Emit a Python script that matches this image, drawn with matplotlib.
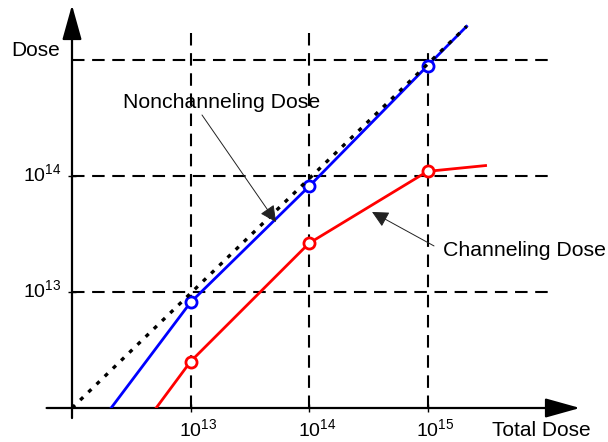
import matplotlib
matplotlib.use("Agg")
import matplotlib.pyplot as plt
from matplotlib.patches import ArrowStyle

plt.rcParams["font.family"] = ["Liberation Sans", "DejaVu Sans"]
plt.rcParams["mathtext.fontset"] = "custom"
plt.rcParams["mathtext.rm"] = "Liberation Sans"
plt.rcParams["lines.scale_dashes"] = False

# data (log-log)
tick_doses = [1e13, 1e14, 1e15]
tick_labels = [r"$\mathregular{10^{13}}$", r"$\mathregular{10^{14}}$", r"$\mathregular{10^{15}}$"]

ideal_x = [1e12, 10**15.33]
ideal_y = [1e12, 10**15.29]

nonchan_x = [10**12.33, 1e13, 1e14, 1e15, 10**15.33]
nonchan_y = [1e12, 10**12.91, 10**13.91, 10**14.95, 10**15.29]

chan_x = [10**12.71, 1e13, 1e14, 1e15, 10**15.49]
chan_y = [1e12, 10**12.40, 10**13.42, 10**14.04, 10**14.09]

# layout (pixels of the 608x442 picture)
W, H = 608, 442
X0, Y0 = 72, 408          # where 1e12/1e12 sits
PX_DEC_X, PX_DEC_Y = 118.5, 116.0

fig = plt.figure(figsize=(W / 100, H / 100), dpi=100)
ax = fig.add_axes([X0 / W, (H - Y0) / H, (580 - X0) / W, (Y0 - 5) / H])
ax.set_xscale("log")
ax.set_yscale("log")
ax.set_xlim(1e12, 10 ** (12 + (580 - X0) / PX_DEC_X))
ax.set_ylim(1e12, 10 ** (12 + (Y0 - 5) / PX_DEC_Y))
for s in ax.spines.values():
    s.set_visible(False)
ax.set_xticks([])
ax.set_yticks([])
ax.minorticks_off()
ax.patch.set_alpha(0)

grid_kw = dict(color="black", lw=1.5, dashes=(9, 5.5), zorder=1)
x_grid_end = 10 ** (12 + (550 - X0) / PX_DEC_X)
for d in tick_doses:
    ax.plot([1e12, x_grid_end], [d, d], **grid_kw)
v_tops = [10 ** 15.23, 10 ** 15.23, 10 ** 15.09]
for d, top in zip(tick_doses, v_tops):
    ax.plot([d, d], [1e12, top], **grid_kw)

# axes with arrows
axis_style = ArrowStyle("-|>", head_length=21.5, head_width=6.0)
ax.annotate("", xy=(1, 0), xytext=(-0.05, 0), xycoords="axes fraction",
            arrowprops=dict(arrowstyle=axis_style, mutation_scale=1, lw=1.6,
                            color="black", shrinkA=0, shrinkB=0), annotation_clip=False)
ax.annotate("", xy=(0, 1), xytext=(0, -0.025), xycoords="axes fraction",
            arrowprops=dict(arrowstyle=axis_style, mutation_scale=1, lw=1.6,
                            color="black", shrinkA=0, shrinkB=0), annotation_clip=False)

# small tick marks crossing the axes
for d in tick_doses:
    ax.plot([d], [0], transform=ax.get_xaxis_transform(), marker="|", ms=6,
            mew=1.0, color="black", clip_on=False, zorder=4)
for d in tick_doses[:2]:
    ax.plot([0], [d], transform=ax.get_yaxis_transform(), marker="_", ms=6,
            mew=1.0, color="black", clip_on=False, zorder=4)

# curves
ax.plot(nonchan_x, nonchan_y, color="#0000ff", lw=2.0, zorder=3,
        marker="o", markevery=[1, 2, 3], ms=8, mfc="white", mec="#0000ff", mew=2.0)
ax.plot(ideal_x, ideal_y, color="black", lw=2.4, dashes=(3.0, 5.2), zorder=3.5)
ax.plot(chan_x, chan_y, color="#ff0000", lw=2.0, zorder=3,
        marker="o", markevery=[1, 2, 3], ms=8, mfc="white", mec="#ff0000", mew=2.0)

# tick labels
for d, lab in zip(tick_doses, tick_labels):
    ax.annotate(lab, xy=(d, 0), xycoords=("data", "axes fraction"),
                xytext=(-8, -7), textcoords="offset points",
                ha="left", va="top", fontsize=14, annotation_clip=False)
for d, lab in zip(tick_doses[:2], tick_labels[:2]):
    ax.annotate(lab, xy=(0, d), xycoords=("axes fraction", "data"),
                xytext=(-7.5, -4), textcoords="offset points",
                ha="right", va="baseline", fontsize=14, annotation_clip=False)

fig.text(11 / W, 1 - 50 / H, "Dose", fontsize=15, va="center", ha="left")
fig.text(492 / W, 1 - 430 / H, "Total Dose", fontsize=15, va="center", ha="left")

# annotations
pointer = ArrowStyle("-|>", head_length=10, head_width=5)
ax.text(10 ** 12.43, 10 ** 14.63, "Nonchanneling Dose", fontsize=15.3, va="center", ha="left")
ax.annotate("", xy=(10 ** 13.722, 10 ** 13.603), xytext=(10 ** 13.097, 10 ** 14.526),
            arrowprops=dict(arrowstyle=pointer, mutation_scale=1, lw=0.7,
                            color="#222222", shrinkA=0, shrinkB=0), zorder=5)
ax.text(10 ** 15.131, 10 ** 13.362, "Channeling Dose", fontsize=15.3, va="center", ha="left")
ax.annotate("", xy=(10 ** 14.532, 10 ** 13.690), xytext=(10 ** 15.055, 10 ** 13.397),
            arrowprops=dict(arrowstyle=pointer, mutation_scale=1, lw=0.7,
                            color="#222222", shrinkA=0, shrinkB=0), zorder=5)

fig.savefig("out.png", dpi=100)
